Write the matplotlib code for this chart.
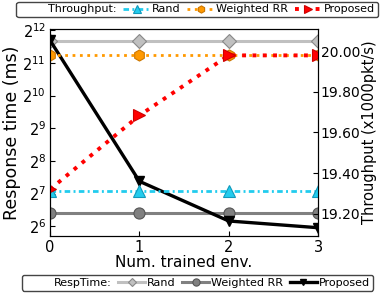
import matplotlib
matplotlib.use("Agg")
import matplotlib.pyplot as plt
from matplotlib.lines import Line2D

x = [0, 1, 2, 3]
resp_rand = [3240, 3240, 3240, 3240]
resp_wrr = [85, 85, 85, 85]
resp_prop = [3300, 166, 71.5, 62]
tp_rand = [19.314, 19.314, 19.314, 19.314]
tp_wrr = [19.98, 19.98, 19.98, 19.98]
tp_prop = [19.32, 19.684, 19.98, 19.98]
left_ticks = [2**k for k in range(6, 13)]
left_labels = [r"$2^{%d}$" % k for k in range(6, 13)]
right_ticks = [19.2, 19.4, 19.6, 19.8, 20.0]

fig = plt.figure(figsize=(3.82, 2.95), dpi=100)
ax = fig.add_axes([0.131, 0.2, 0.7016, 0.7017])
ax2 = ax.twinx()

l1, = ax.plot(x, resp_rand, color="#c0c0c0", lw=2.2, marker="D", ms=7,
              mfc="#c0c0c0", mec="#888888", mew=0.8)
l2, = ax.plot(x, resp_wrr, color="#808080", lw=2.2, marker="o", ms=8,
              mfc="#808080", mec="#555555", mew=0.8)
l3, = ax.plot(x, resp_prop, color="black", lw=2.4, marker="v", ms=7,
              mfc="black", mec="black")
ax.set_yscale("log", base=2)
ax.set_ylim(52, 4200)
ax.set_xlim(0, 3)
ax.set_yticks(left_ticks)
ax.set_yticklabels(left_labels)
ax.minorticks_off()
ax.set_xticks(x)
ax.set_xlabel("Num. trained env.", fontsize=11, labelpad=0)
ax.set_ylabel("Response time (ms)", fontsize=12.5, labelpad=1)
ax.tick_params(direction="in", labelsize=10.5, pad=3)

t1, = ax2.plot(x, tp_rand, color="#22ccee", lw=2.0, ls=(0, (2, 1.2, 0.7, 1.2)),
               marker="^", ms=8, mfc="#22ccee", mec="#1199bb", mew=0.8)
t2, = ax2.plot(x, tp_wrr, color="#ff9900", lw=2.0, ls=":", marker="h", ms=8,
               mfc="#ff9900", mec="#cc7700", mew=0.8)
t3, = ax2.plot(x, tp_prop, color="red", lw=2.8, ls=":", marker=">", ms=8,
               mfc="red", mec="#cc0000", mew=0.8)
ax2.set_ylim(19.09, 20.11)
ax2.set_yticks(right_ticks)
ax2.set_yticklabels(["%.2f" % v for v in right_ticks])
ax2.set_ylabel("Throughput (x1000pkt/s)", fontsize=10.5, labelpad=1)
ax2.tick_params(direction="in", labelsize=10, pad=2)

blank = Line2D([], [], color="none")
leg_kw = dict(loc="center", ncol=4, fontsize=8, handlelength=2.4,
              handletextpad=0.2, columnspacing=0.6, borderpad=0.25,
              fancybox=True, edgecolor="#444444", framealpha=1,
              borderaxespad=0, markerscale=0.65)
fig.legend([blank, t1, t2, t3], ["Throughput:", "Rand", "Weighted RR", "Proposed"],
           bbox_to_anchor=(0.516, 0.968), **leg_kw)
fig.legend([blank, l1, l2, l3], ["RespTime:", "Rand", "Weighted RR", "Proposed"],
           bbox_to_anchor=(0.517, 0.041), **leg_kw)

fig.savefig("out.png", dpi=100)
